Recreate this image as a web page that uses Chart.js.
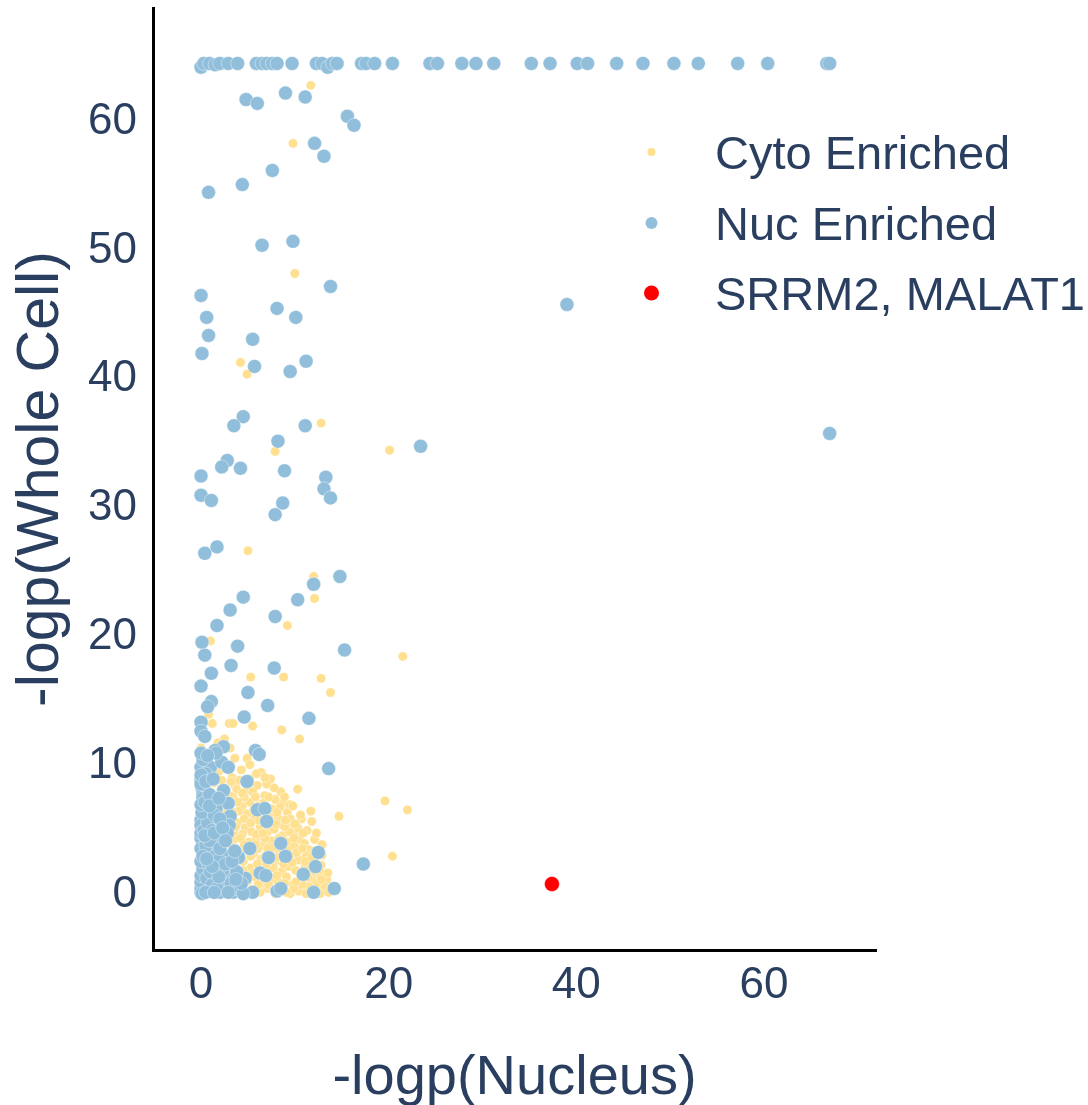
<!DOCTYPE html>
<html lang="en">
<head>
<meta charset="UTF-8">
<title>-logp(Nucleus) vs -logp(Whole Cell)</title>
<script src="https://cdn.jsdelivr.net/npm/chart.js"></script>
<style>
  html, body { margin: 0; padding: 0; background: #ffffff; }
  #wrap { width: 1088px; height: 1105px; }
</style>
</head>
<body>
<div id="wrap"><canvas id="scatter" width="1088" height="1105"></canvas></div>
<script>
// each point: [-logp(Nucleus), -logp(Whole Cell)]
const cytoEnriched = [
  [11.7,62.8],[9.8,58.3],[10.0,48.2],[4.2,41.3],[4.9,40.4],[12.8,36.6],[7.9,34.4],[20.1,34.5],
  [5.0,26.7],[12.0,24.7],[12.1,23.0],[9.2,20.9],[1.0,19.7],[21.5,18.5],[5.3,16.9],[8.8,16.9],
  [12.8,16.8],[13.8,15.7],[0.8,14.0],[1.2,13.3],[3.0,13.3],[3.4,13.3],[5.5,13.1],[8.6,12.8],
  [10.5,12.1],[2.5,12.1],[0,11.4],[4.9,10.6],[0,10.6],[6.4,9.5],[7.4,9.0],[6.0,8.5],
  [10.3,8.2],[4.8,8.1],[3.6,8.5],[19.6,7.3],[22.0,6.6],[14.7,6.1],[11.7,6.5],[10.7,5.9],
  [8.8,7.1],[4.4,6.9],[5.2,7.2],[8.7,5.4],[10.1,4.8],[12.1,4.3],[10.5,4.3],[20.4,3.0],
  [11.6,2.1],[11.8,1.2],[13.0,0.6],[10.7,0.6],
  [1.9,9.6],[2.7,10.2],[3.3,9.1],[4.3,9.7],[1.4,8.7],[2.2,8.9],[3.8,8.2],[4.6,7.6],
  [5.5,8.0],[6.8,7.7],[7.9,7.4],[1.7,7.4],[2.5,7.0],[3.4,7.6],[4.0,6.5],[4.9,6.3],
  [5.7,5.9],[6.5,6.1],[7.4,6.3],[8.2,6.0],[9.2,6.4],[9.7,5.6],[2.1,6.3],[2.9,5.8],
  [3.9,5.6],[4.7,5.2],[5.4,4.9],[6.3,5.3],[7.1,4.9],[7.8,5.1],[8.7,4.6],[9.4,4.9],
  [10.3,5.2],[1.8,5.1],[2.6,4.6],[3.5,4.3],[4.4,4.7],[5.1,4.1],[5.9,4.4],[6.7,3.9],
  [7.5,4.2],[8.1,3.6],[9.1,4.1],[9.9,3.8],[11.0,4.0],[11.5,3.5],[2.3,3.7],[3.1,3.4],
  [4.1,3.1],[4.8,3.5],[5.6,3.2],[6.4,2.8],[7.3,3.3],[7.9,2.6],[8.8,2.9],[9.6,3.1],
  [10.4,2.7],[11.2,3.0],[12.1,2.6],[12.8,2.3],[2.7,2.5],[3.6,2.2],[4.5,2.6],[5.3,2.1],
  [6.0,2.4],[6.9,1.9],[7.7,2.1],[8.6,1.8],[9.3,2.2],[10.1,1.9],[11.1,2.3],[11.9,1.7],
  [12.6,1.5],[13.4,1.2],[2.4,1.5],[3.3,1.2],[4.2,1.6],[5.0,1.1],[5.8,1.4],[6.6,0.9],
  [7.4,1.3],[8.2,1.0],[9.1,1.4],[9.8,0.8],[10.6,1.2],[11.4,0.9],[12.2,1.1],[13.1,0.7],
  [13.9,0.5],[2.8,0.6],[3.8,0.3],[4.6,0.7],[5.4,0.4],[6.3,0.2],[7.1,0.5],[7.9,0.1],
  [8.9,0.4],[9.5,0.1],[10.4,0.3],[11.2,0.1],[12.0,0.4],[12.7,0.1],[13.6,0.2],[5.9,9.4],
  [5.2,10.1],[3.6,10.6],[0.9,9.2],[0.6,8.4],[1.2,6.8],[0.8,5.9],[0.5,4.2],[1.0,3.1],
  [1.5,2.2],[0.3,1.8],[1.7,1.1],[2.0,0.3],[1.8,11.8],[3.1,11.4],[7.0,8.6],[8.5,8.0],
  [9.5,7.0],[11.8,5.7],
  [2.4,9.9],[3.2,8.8],[4.1,8.9],[5.2,9.0],[6.8,9.1],[7.8,8.3],[8.9,7.6],[9.8,6.9],
  [10.6,6.2],[11.3,5.0],[12.3,4.8],[12.9,3.9],[12.9,3.1],[13.5,1.7],[2.3,8.0],[3.0,7.7],
  [4.4,7.9],[5.8,7.6],[6.6,7.1],[7.5,6.7],[8.4,6.8],[9.5,5.9],[10.9,4.8],[12.1,3.4],
  [12.6,1.9],[2.2,6.6],[3.4,6.4],[4.6,5.9],[5.3,5.6],[6.2,5.8],[7.0,5.4],[8.0,5.5],
  [8.9,5.3],[9.9,4.4],[2.4,5.3],[3.5,4.9],[4.2,4.4],[5.9,4.7],[6.8,4.4],[7.6,3.7],
  [8.5,3.9],[9.2,3.5],[10.2,3.3],[11.1,2.6],[2.3,4.1],[3.1,3.9],[4.6,3.9],[5.3,3.0],
  [6.1,3.6],[7.0,2.4],[8.0,2.9],[8.8,2.4],[9.7,2.5],[10.6,1.5],[11.4,1.4],[12.3,0.9],
  [3.2,2.0],[4.1,2.8],[4.5,1.9],[5.6,1.7],[6.5,1.2],[7.2,0.8],[8.1,1.5],[8.9,0.9],
  [9.9,0.5],[10.8,0.8],[11.6,0.6],[12.8,1.2],[3.4,0.8],[5.0,0.2],[6.1,0.8],[7.8,0.4],
  [9.1,0.2],[10.1,1.0],
  [3.9,7.2],[6.1,6.9],[7.2,7.6],[8.1,6.4],[6.9,6.0],[5.6,6.6],[9.0,5.8],[10.0,5.5],
  [3.7,5.3],[6.6,4.8],[8.3,4.4],[10.8,3.6],[11.8,2.9],[5.8,3.9],[7.1,3.6],[6.8,3.0]
];

const nucEnriched = [
  [0,64.2],[0.3,64.5],[0.9,64.5],[1.5,64.4],[2.0,64.5],[2.9,64.5],[3.9,64.5],[5.9,64.5],
  [6.5,64.5],[7.0,64.5],[7.6,64.5],[8.1,64.5],[9.7,64.5],[12.3,64.5],[12.9,64.5],[13.5,64.2],
  [14.0,64.5],[14.5,64.5],[17.1,64.5],[17.6,64.5],[18.5,64.5],[20.4,64.5],[24.4,64.5],[25.2,64.5],
  [27.8,64.5],[29.3,64.5],[31.2,64.5],[35.2,64.5],[37.2,64.5],[40.1,64.5],[41.2,64.5],[44.3,64.5],
  [47.1,64.5],[50.4,64.5],[53.0,64.5],[57.2,64.5],[60.4,64.5],[66.7,64.5],[67.0,64.5],
  [4.8,61.7],[6.0,61.4],[9.0,62.2],[11.1,61.9],[15.6,60.4],[16.3,59.7],[12.1,58.3],[13.1,57.3],
  [7.6,56.2],[4.4,55.1],[0.8,54.5],[6.5,50.4],[9.8,50.7],[13.8,47.2],[0,46.5],[39.0,45.8],
  [0.6,44.8],[8.1,45.5],[10.1,44.8],[0.8,43.4],[5.5,43.1],[0.1,42.0],[5.7,41.0],[9.5,40.6],
  [11.2,41.4],[4.5,37.1],[3.5,36.4],[11.1,36.4],[8.2,35.2],[23.4,34.8],[67.0,35.8],[2.8,33.7],
  [2.2,33.2],[4.2,33.1],[8.9,32.9],[13.3,32.4],[13.1,31.5],[13.8,30.8],[0,32.5],[0,31.0],
  [1.1,30.6],[8.7,30.4],[7.9,29.5],[1.7,27.0],[0.4,26.5],[14.8,24.7],[12.0,24.1],[4.5,23.1],
  [10.3,22.9],[3.1,22.1],[7.9,21.6],[1.7,20.9],[0.1,19.6],[3.9,19.3],[15.3,19.0],[0.4,18.6],
  [3.2,17.8],[7.8,17.6],[1.1,17.2],[0,16.2],[5.0,15.7],[7.1,14.7],[1.1,15.0],[0.7,14.6],
  [4.6,13.8],[11.5,13.7],[0,13.4],[0,12.7],[0.4,12.3],[2.4,11.5],[1.5,11.2],[5.8,11.2],
  [6.2,10.9],[13.6,9.8],
  [0,9.9],[1.0,9.9],[2.2,10.3],[2.9,9.9],[1.6,11.0],[4.9,8.8],[2.4,8.1],[0,8.9],
  [0.1,8.3],[0.2,7.8],[0.2,7.5],[2.9,7.1],[1.6,6.7],[0.6,6.2],[6.0,6.6],[6.8,6.7],
  [7.0,5.7],[3.1,6.1],[3.0,5.4],[2.8,4.8],[0,5.8],[0,5.4],[0,4.4],[0,4.8],
  [1.8,4.5],[5.2,3.6],[4.0,2.9],[7.2,2.9],[9.0,3.0],[8.5,4.0],[1.5,4.0],[2.4,3.1],
  [12.5,3.3],[12.2,2.2],[17.3,2.4],[10.9,1.6],[14.2,0.5],[12.0,0.2],[8.1,0.3],[8.5,0.5],
  [6.3,1.7],[6.9,1.5],[4.7,1.3],[5.5,0.2],[2.2,1.1],[2.6,0.5],[2.8,1.7],[0.6,0.6],
  [2.0,0.2],[3.4,0.2],[0,0.2],
  [0,0.5],[0,1.0],[0,1.5],[0.2,2.0],[0,2.6],[0.3,3.2],[0,3.6],[0.6,1.3],
  [0.9,0.3],[1.2,0.8],[0.1,0.1],[1.6,1.8],[0.8,2.4],[1.1,3.0],[0.5,3.8],[0.9,4.2],
  [0.3,5.0],[0.7,5.6],[0.1,6.4],[0,7.0],[0.4,7.2],[0.9,7.8],[0,8.6],[0.5,9.4],
  [1.2,5.0],[1.9,2.7],[1.7,0.5],[2.3,1.9],[3.2,0.9],[4.1,0.4],[4.5,0.1],[3.8,1.8],
  [1.4,6.2],[2.0,5.9],[0,9.3],[0.2,10.5],[0,11.0],[0.7,10.8],
  [0.5,0.2],[1.4,0.2],[2.9,0.2],[1.0,1.8],[1.9,1.4],[2.6,2.4],[3.3,2.6],[3.6,3.4],
  [2.0,3.6],[0.4,4.6],[1.4,4.8],[2.3,5.2],[0.9,6.9],[1.9,7.5],[0.5,8.8],[1.3,9.0],
  [4.3,0.9],[3.7,1.2],[1.2,2.2],[2.6,4.2],[0.2,3.0],[0.6,2.8]
];

const highlighted = [[37.4,0.85]];   // SRRM2, MALAT1

const seriesNames = ['Cyto Enriched', 'Nuc Enriched', 'SRRM2, MALAT1'];
const xTicks = [0, 20, 40, 60];
const yTicks = [0, 10, 20, 30, 40, 50, 60];

const textColor = '#2a3f5f';
const fontFamily = "'Liberation Sans', Arial, sans-serif";
Chart.defaults.font.family = fontFamily;
Chart.defaults.color = textColor;

function toPoints(list) {
  return list.map(p => ({ x: p[0], y: p[1] }));
}

// legend sits inside the plot, plotly style
const legendRows = [152, 223, 293];
const legendMarker = [4, 6, 7.5];

const insideLegend = {
  id: 'insideLegend',
  afterDraw(chart) {
    const ctx = chart.ctx;
    ctx.save();
    ctx.font = '47px ' + fontFamily;
    ctx.textBaseline = 'alphabetic';
    ctx.textAlign = 'left';
    chart.data.datasets.forEach((ds, i) => {
      const y = legendRows[i];
      ctx.beginPath();
      ctx.arc(651.5, y, legendMarker[i], 0, Math.PI * 2);
      ctx.fillStyle = ds.backgroundColor;
      ctx.fill();
      ctx.fillStyle = textColor;
      ctx.fillText(ds.label, 715, y + 17);
    });
    ctx.restore();
  }
};

new Chart(document.getElementById('scatter'), {
  type: 'scatter',
  data: {
    datasets: [
      {
        label: seriesNames[0],
        data: toPoints(cytoEnriched),
        backgroundColor: '#fee090',
        borderColor: 'rgba(255,255,255,0.8)',
        borderWidth: 0.5,
        pointRadius: 4.7,
        order: 3
      },
      {
        label: seriesNames[1],
        data: toPoints(nucEnriched),
        backgroundColor: '#91bfdb',
        borderColor: 'rgba(255,255,255,0.8)',
        borderWidth: 0.5,
        pointRadius: 7,
        order: 2
      },
      {
        label: seriesNames[2],
        data: toPoints(highlighted),
        backgroundColor: '#ff0000',
        borderColor: 'rgba(255,255,255,0.8)',
        borderWidth: 0.5,
        pointRadius: 7.5,
        order: 1
      }
    ]
  },
  options: {
    responsive: false,
    animation: false,
    devicePixelRatio: 1,
    layout: { padding: { top: 8, right: 212, bottom: 0, left: 0 } },
    plugins: {
      legend: { display: false },
      tooltip: { enabled: false }
    },
    scales: {
      x: {
        type: 'linear',
        min: -5.12,
        max: 71.94,
        afterBuildTicks: s => { s.ticks = xTicks.map(v => ({ value: v })); },
        afterFit: s => { s.height = 155; s.paddingLeft = 0; s.paddingRight = 0; },
        grid: { display: false, drawTicks: false },
        border: { display: true, color: '#000000', width: 3 },
        ticks: { font: { size: 44 }, color: textColor, padding: 9, maxRotation: 0 },
        title: {
          display: true,
          text: '-logp(Nucleus)',
          font: { size: 56 },
          color: textColor,
          padding: { top: 0, bottom: -7 }
        }
      },
      y: {
        type: 'linear',
        min: -4.27,
        max: 68.8,
        afterBuildTicks: s => { s.ticks = yTicks.map(v => ({ value: v })); },
        afterFit: s => { s.width = 153; s.paddingTop = 0; s.paddingBottom = 0; },
        grid: { display: false, drawTicks: false },
        border: { display: true, color: '#000000', width: 3 },
        ticks: { font: { size: 44 }, color: textColor, padding: 16 },
        title: {
          display: true,
          text: '-logp(Whole Cell)',
          font: { size: 59 },
          color: textColor,
          padding: { top: 6, bottom: 0 }
        }
      }
    }
  },
  plugins: [insideLegend]
});
</script>
</body>
</html>
